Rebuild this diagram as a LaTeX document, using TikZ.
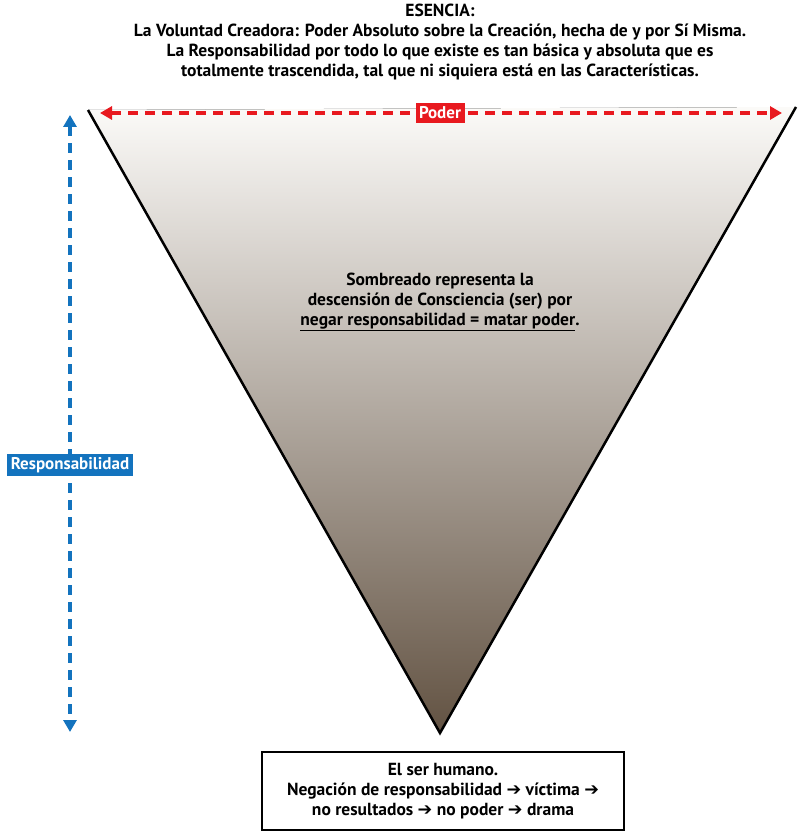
\documentclass[tikz,border=0pt]{standalone}
\usepackage{fontspec}
\setmainfont{PT Sans}
\newfontfamily\symf{DejaVu Sans}
\usetikzlibrary{arrows.meta}
\newcommand{\ar}{{\symf\bfseries ➔}}
\definecolor{pred}{HTML}{E8191F}
\definecolor{pblue}{HTML}{1373BE}
\tikzset{
  txt/.style={font=\bfseries\fontsize{17.5}{20}\selectfont, align=center},
  lbl/.style={font=\bfseries\fontsize{17}{20}\selectfont, text=white, inner sep=3.5pt},
}
\begin{document}
\begin{tikzpicture}[x=1pt,y=-1pt]
\useasboundingbox (0,0) rectangle (800,832);
\begin{scope}
\clip (88,110) -- (796,107) -- (440,733) -- cycle;
\fill[top color={rgb,255:red,253;green,252;blue,250}, middle color={rgb,255:red,210;green,196;blue,166}, bottom color={rgb,255:red,98;green,82;blue,66}] (80,100) rectangle (800,735);
\end{scope}
\draw[line width=2.5pt, line join=miter] (88,110) coordinate (tl) -- (440,733) coordinate (bt) -- (796,107) coordinate (tr);
\node[txt] (top) at (440,42) {ESENCIA:\\La Voluntad Creadora: Poder Absoluto sobre la Creación, hecha de y por Sí Misma.\\La Responsabilidad por todo lo que existe es tan básica y absoluta que es\\totalmente trascendida, tal que ni siquiera está en las Características.};
\coordinate (pl) at (100,113); \coordinate (pr) at (782,113);
\draw[pred, line width=3.2pt, dash pattern=on 10pt off 7pt, {Triangle[length=12pt,width=13pt]}-{Triangle[length=12pt,width=13pt]}] (pl) -- (pr);
\node[lbl, fill=pred] (poder) at (440,113) {Poder};
\coordinate (bu) at (70,115); \coordinate (bd) at (70,732);
\draw[pblue, line width=3.2pt, dash pattern=on 10pt off 7pt, {Triangle[length=12pt,width=13pt]}-{Triangle[length=12pt,width=13pt]}] (bu) -- (bd);
\node[lbl, fill=pblue] (resp) at (70,465) {Responsabilidad};
\node[txt] (mid) at (440,302) {Sombreado representa la\\descensión de Consciencia (ser) por\\\underline{negar responsabilidad = matar poder}.};
\node[txt, draw, line width=1.2pt, fill=white, minimum width=362pt, minimum height=78pt] (hum) at (443,791) {El ser humano.\\Negación de responsabilidad \ar{} víctima \ar\\no resultados \ar{} no poder \ar{} drama};
\end{tikzpicture}
\end{document}
